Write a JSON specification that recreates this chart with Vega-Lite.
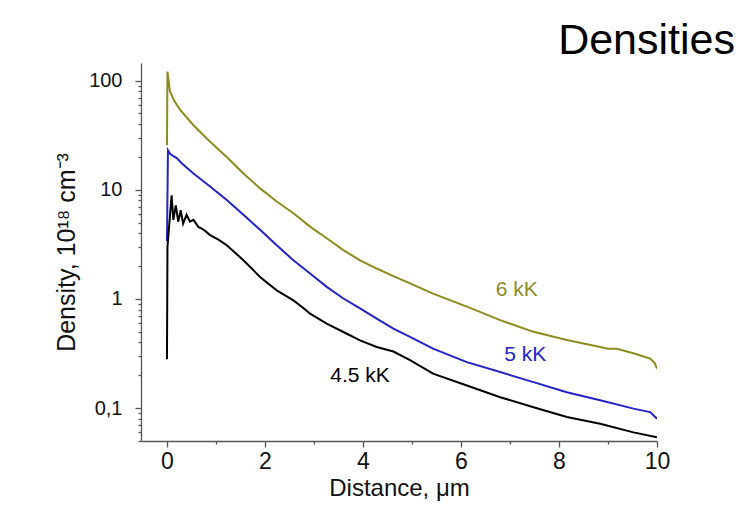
{
  "$schema": "https://vega.github.io/schema/vega-lite/v6.json",
  "width": 516,
  "height": 378,
  "autosize": {"type": "none"},
  "padding": {"left": 141, "top": 63, "right": 97, "bottom": 85},
  "background": "white",
  "config": {"view": {"stroke": null}, "font": "Liberation Sans"},
  "title": {"text": "Densities", "anchor": "end", "frame": "group", "dx": 78, "dy": 37, "offset": 3, "baseline": "alphabetic", "fontSize": 43, "fontWeight": "normal", "font": "Liberation Sans", "color": "#000000"},
  "layer": [
    {
      "data": {"values": [
        {"s": "6 kK", "x": 0, "y": 25.6}, {"s": "6 kK", "x": 0.01, "y": 121}, {"s": "6 kK", "x": 0.06, "y": 80}, {"s": "6 kK", "x": 0.15, "y": 65}, {"s": "6 kK", "x": 0.27, "y": 54}, {"s": "6 kK", "x": 0.54, "y": 39}, {"s": "6 kK", "x": 0.88, "y": 27.5}, {"s": "6 kK", "x": 1.22, "y": 20}, {"s": "6 kK", "x": 1.56, "y": 14.1}, {"s": "6 kK", "x": 1.9, "y": 10.3}, {"s": "6 kK", "x": 2.24, "y": 7.8}, {"s": "6 kK", "x": 2.58, "y": 6.1}, {"s": "6 kK", "x": 2.92, "y": 4.6}, {"s": "6 kK", "x": 3.26, "y": 3.6}, {"s": "6 kK", "x": 3.6, "y": 2.8}, {"s": "6 kK", "x": 3.94, "y": 2.26}, {"s": "6 kK", "x": 4.28, "y": 1.9}, {"s": "6 kK", "x": 4.62, "y": 1.62}, {"s": "6 kK", "x": 4.96, "y": 1.39}, {"s": "6 kK", "x": 5.43, "y": 1.12}, {"s": "6 kK", "x": 6.12, "y": 0.85}, {"s": "6 kK", "x": 6.8, "y": 0.64}, {"s": "6 kK", "x": 7.48, "y": 0.5}, {"s": "6 kK", "x": 8.16, "y": 0.42}, {"s": "6 kK", "x": 8.84, "y": 0.363}, {"s": "6 kK", "x": 9.0, "y": 0.35}, {"s": "6 kK", "x": 9.18, "y": 0.35}, {"s": "6 kK", "x": 9.5, "y": 0.32}, {"s": "6 kK", "x": 9.86, "y": 0.284}, {"s": "6 kK", "x": 9.95, "y": 0.26}, {"s": "6 kK", "x": 10, "y": 0.23},
        {"s": "5 kK", "x": 0, "y": 3.4}, {"s": "5 kK", "x": 0.02, "y": 23}, {"s": "5 kK", "x": 0.06, "y": 21.5}, {"s": "5 kK", "x": 0.1, "y": 20.8}, {"s": "5 kK", "x": 0.2, "y": 19.5}, {"s": "5 kK", "x": 0.3, "y": 17.5}, {"s": "5 kK", "x": 0.54, "y": 14.1}, {"s": "5 kK", "x": 0.88, "y": 10.7}, {"s": "5 kK", "x": 1.22, "y": 8.05}, {"s": "5 kK", "x": 1.56, "y": 5.9}, {"s": "5 kK", "x": 1.9, "y": 4.3}, {"s": "5 kK", "x": 2.24, "y": 3.1}, {"s": "5 kK", "x": 2.58, "y": 2.26}, {"s": "5 kK", "x": 2.92, "y": 1.71}, {"s": "5 kK", "x": 3.26, "y": 1.29}, {"s": "5 kK", "x": 3.6, "y": 1.01}, {"s": "5 kK", "x": 3.94, "y": 0.82}, {"s": "5 kK", "x": 4.28, "y": 0.66}, {"s": "5 kK", "x": 4.62, "y": 0.535}, {"s": "5 kK", "x": 4.96, "y": 0.45}, {"s": "5 kK", "x": 5.43, "y": 0.351}, {"s": "5 kK", "x": 6.12, "y": 0.264}, {"s": "5 kK", "x": 6.8, "y": 0.214}, {"s": "5 kK", "x": 7.48, "y": 0.173}, {"s": "5 kK", "x": 8.16, "y": 0.14}, {"s": "5 kK", "x": 8.84, "y": 0.118}, {"s": "5 kK", "x": 9.52, "y": 0.099}, {"s": "5 kK", "x": 9.86, "y": 0.092}, {"s": "5 kK", "x": 10, "y": 0.08},
        {"s": "4.5 kK", "x": 0, "y": 0.28}, {"s": "4.5 kK", "x": 0.01, "y": 3.0}, {"s": "4.5 kK", "x": 0.095, "y": 8.9}, {"s": "4.5 kK", "x": 0.13, "y": 5.3}, {"s": "4.5 kK", "x": 0.18, "y": 7.2}, {"s": "4.5 kK", "x": 0.23, "y": 5.1}, {"s": "4.5 kK", "x": 0.28, "y": 6.5}, {"s": "4.5 kK", "x": 0.33, "y": 4.9}, {"s": "4.5 kK", "x": 0.4, "y": 5.9}, {"s": "4.5 kK", "x": 0.47, "y": 5.1}, {"s": "4.5 kK", "x": 0.54, "y": 5.3}, {"s": "4.5 kK", "x": 0.64, "y": 4.57}, {"s": "4.5 kK", "x": 0.71, "y": 4.4}, {"s": "4.5 kK", "x": 0.78, "y": 4.2}, {"s": "4.5 kK", "x": 0.88, "y": 3.84}, {"s": "4.5 kK", "x": 1.05, "y": 3.5}, {"s": "4.5 kK", "x": 1.22, "y": 3.11}, {"s": "4.5 kK", "x": 1.39, "y": 2.65}, {"s": "4.5 kK", "x": 1.56, "y": 2.26}, {"s": "4.5 kK", "x": 1.73, "y": 1.9}, {"s": "4.5 kK", "x": 1.9, "y": 1.59}, {"s": "4.5 kK", "x": 2.07, "y": 1.38}, {"s": "4.5 kK", "x": 2.24, "y": 1.2}, {"s": "4.5 kK", "x": 2.41, "y": 1.08}, {"s": "4.5 kK", "x": 2.58, "y": 0.97}, {"s": "4.5 kK", "x": 2.75, "y": 0.85}, {"s": "4.5 kK", "x": 2.92, "y": 0.734}, {"s": "4.5 kK", "x": 3.26, "y": 0.594}, {"s": "4.5 kK", "x": 3.6, "y": 0.498}, {"s": "4.5 kK", "x": 3.94, "y": 0.418}, {"s": "4.5 kK", "x": 4.28, "y": 0.363}, {"s": "4.5 kK", "x": 4.62, "y": 0.33}, {"s": "4.5 kK", "x": 4.96, "y": 0.275}, {"s": "4.5 kK", "x": 5.43, "y": 0.207}, {"s": "4.5 kK", "x": 6.12, "y": 0.161}, {"s": "4.5 kK", "x": 6.8, "y": 0.126}, {"s": "4.5 kK", "x": 7.48, "y": 0.102}, {"s": "4.5 kK", "x": 8.16, "y": 0.083}, {"s": "4.5 kK", "x": 8.84, "y": 0.072}, {"s": "4.5 kK", "x": 9.52, "y": 0.06}, {"s": "4.5 kK", "x": 10, "y": 0.054}
      ]},
      "mark": {"type": "line", "strokeWidth": 2, "clip": true},
      "encoding": {
        "x": {
          "field": "x", "type": "quantitative",
          "scale": {"domain": [-0.53, 10], "nice": false, "zero": false},
          "axis": {
            "title": "Distance, μm",
            "values": [0, 1, 2, 3, 4, 5, 6, 7, 8, 9, 10],
            "format": "d",
            "labelExpr": "datum.value % 2 == 0 ? datum.label : ''",
            "tickSize": {"condition": {"test": "datum.value % 2 == 0", "value": 6}, "value": 3},
            "grid": false,
            "domainColor": "#555555", "tickColor": "#555555", "domainWidth": 1.3, "tickWidth": 1.3,
            "labelFontSize": 23, "labelColor": "#111111", "labelPadding": 3, "labelFlush": false, "labelOverlap": false,
            "titleFontSize": 24, "titleFontWeight": "normal", "titleColor": "#111111", "titlePadding": 3
          }
        },
        "y": {
          "field": "y", "type": "quantitative",
          "scale": {"type": "log", "domain": [0.05, 145], "nice": false},
          "axis": {
            "title": "Density, 10¹⁸ cm⁻³",
            "values": [0.05, 0.06, 0.07, 0.08, 0.09, 0.1, 0.2, 0.3, 0.4, 0.5, 0.6, 0.7, 0.8, 0.9, 1, 2, 3, 4, 5, 6, 7, 8, 9, 10, 20, 30, 40, 50, 60, 70, 80, 90, 100],
            "labelExpr": "datum.value == 0.1 ? '0,1' : ((datum.value == 1 || datum.value == 10 || datum.value == 100) ? format(datum.value, 'd') : '')",
            "tickSize": {"condition": {"test": "datum.value == 0.1 || datum.value == 1 || datum.value == 10 || datum.value == 100", "value": 6}, "value": 3},
            "grid": false,
            "domainColor": "#555555", "tickColor": "#555555", "domainWidth": 1.3, "tickWidth": 1.3,
            "labelFontSize": 20, "labelColor": "#111111", "labelPadding": 13, "labelFlush": false, "labelOverlap": false,
            "titleFontSize": 25, "titleFontWeight": "normal", "titleColor": "#111111", "titlePadding": 9
          }
        },
        "color": {
          "field": "s", "type": "nominal",
          "scale": {"domain": ["6 kK", "5 kK", "4.5 kK"], "range": ["#8c8c1e", "#2323c8", "#000000"]},
          "legend": null
        }
      }
    },
    {
      "data": {"values": [
        {"s": "6 kK", "x": 7.14, "y": 1.2},
        {"s": "5 kK", "x": 7.31, "y": 0.304},
        {"s": "4.5 kK", "x": 3.94, "y": 0.195}
      ]},
      "mark": {"type": "text", "fontSize": 21, "font": "Liberation Sans"},
      "encoding": {
        "x": {"field": "x", "type": "quantitative"},
        "y": {"field": "y", "type": "quantitative"},
        "text": {"field": "s"},
        "color": {"field": "s", "type": "nominal", "legend": null}
      }
    }
  ]
}
